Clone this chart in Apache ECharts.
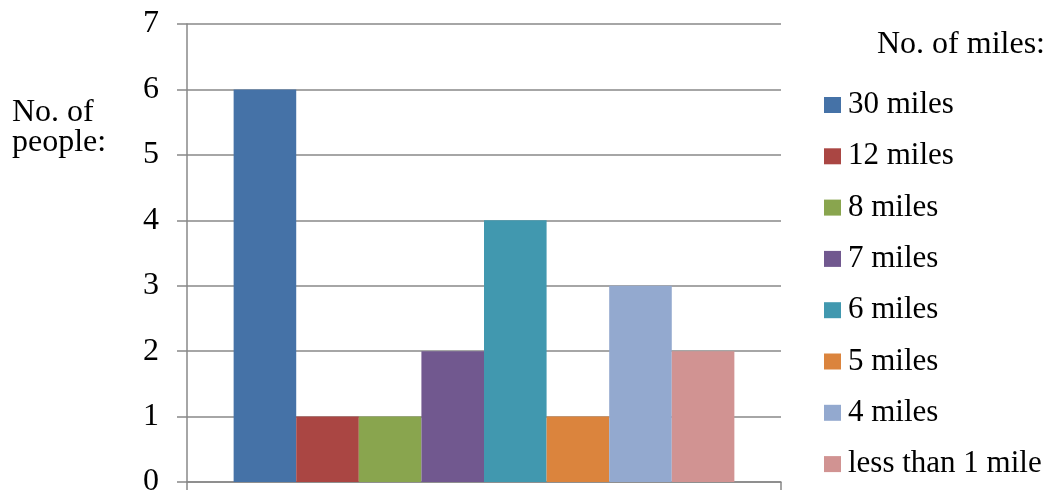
<!DOCTYPE html>
<html><head><meta charset="utf-8">
<script src="https://cdn.jsdelivr.net/npm/echarts@6/dist/echarts.min.js"></script>
<style>html,body{margin:0;padding:0;background:#fff}#c{width:1049px;height:490px}</style>
</head><body><div id="c"></div>
<script>
const seriesNames = ['30 miles','12 miles','8 miles','7 miles','6 miles','5 miles','4 miles','less than 1 mile'];
const seriesValues = [6,1,1,2,4,1,3,2];
const colors = ['#4572A7','#AA4643','#89A54E','#71588F','#4198AF','#DB843D','#93A9CF','#D19392'];
const yTicks = {min:0,max:7,interval:1};
const font = '"Liberation Serif","Times New Roman",serif';
const chart = echarts.init(document.getElementById('c'));
chart.setOption({
  animation:false,
  color: colors,
  textStyle:{fontFamily:font},
  grid:{left:187,right:268,top:24,bottom:8,containLabel:false,outerBoundsMode:'none'},
  xAxis:{type:'category',data:[''],
    axisLine:{lineStyle:{color:'#888',width:1.5}},
    axisTick:{show:true,length:8,lineStyle:{color:'#888',width:1.5}},
    axisLabel:{show:false}},
  yAxis:{type:'value',min:yTicks.min,max:yTicks.max,interval:yTicks.interval,
    axisLine:{show:true,lineStyle:{color:'#888',width:1.5}},
    axisTick:{show:true,length:10,lineStyle:{color:'#888',width:1.5}},
    splitLine:{lineStyle:{color:'#888',width:1.5}},
    axisLabel:{color:'#000',fontSize:32,fontFamily:font,margin:28}},
  legend:{orient:'vertical',left:824,top:89,padding:0,itemWidth:17,itemHeight:16,itemGap:19.3,
    icon:'rect',textStyle:{color:'#000',fontSize:31,fontFamily:font,lineHeight:32,padding:[0,0,0,2]},
    data:seriesNames},
  graphic:[
    {type:'text',x:877,y:45,style:{text:'No. of miles:',fill:'#000',font:'32px '+font,verticalAlign:'middle'}},
    {type:'text',x:12,y:113,style:{text:'No. of',fill:'#000',font:'32px '+font,verticalAlign:'middle'}},
    {type:'text',x:12,y:143,style:{text:'people:',fill:'#000',font:'32px '+font,verticalAlign:'middle'}}
  ],
  series: seriesNames.map((n,i)=>({name:n,type:'bar',barGap:0,barCategoryGap:'15.7%',
    data:[seriesValues[i]]}))
});
</script></body></html>
